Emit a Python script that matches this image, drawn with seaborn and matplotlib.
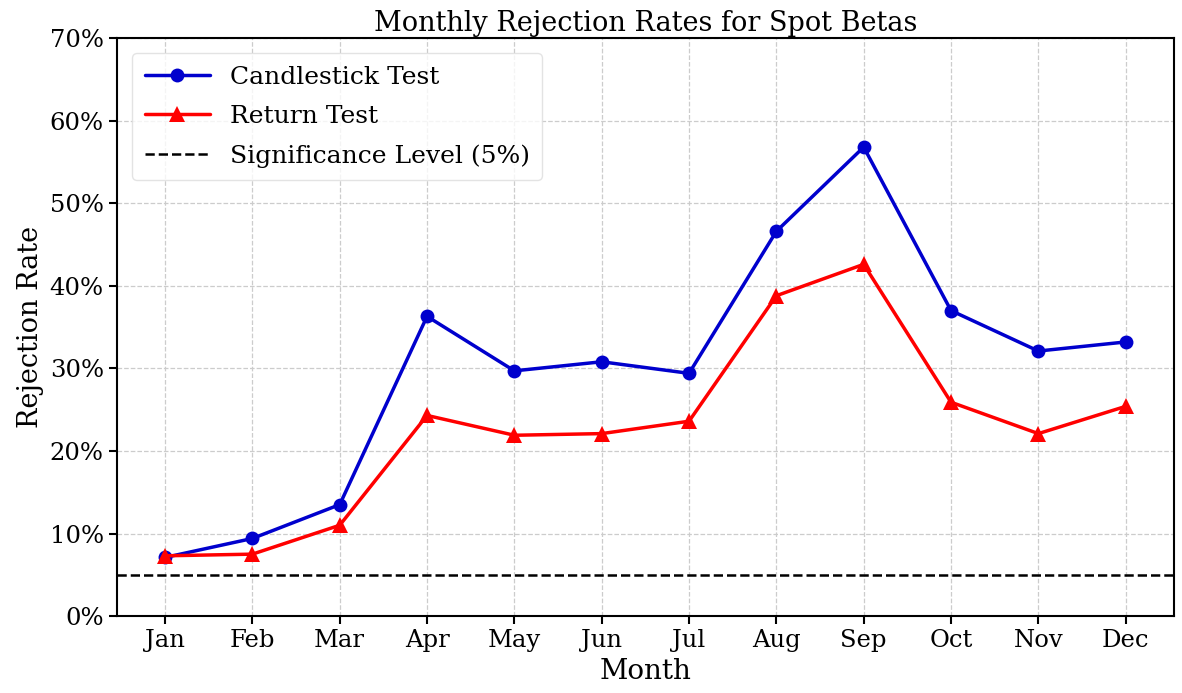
import matplotlib
matplotlib.use("Agg")
import matplotlib.pyplot as plt
import seaborn as sns
import pandas as pd
from matplotlib.ticker import PercentFormatter

months = ["Jan", "Feb", "Mar", "Apr", "May", "Jun", "Jul", "Aug", "Sep", "Oct", "Nov", "Dec"]
candlestick = [7.1, 9.4, 13.5, 36.3, 29.7, 30.8, 29.4, 46.6, 56.8, 37.0, 32.1, 33.2]
return_test = [7.3, 7.5, 11.0, 24.3, 21.9, 22.1, 23.6, 38.8, 42.6, 25.9, 22.1, 25.4]
significance = 5.0

sns.set_style("ticks")
plt.rcParams['font.family'] = ['DejaVu Serif']
plt.rcParams['text.color'] = 'black'
plt.rcParams['axes.labelcolor'] = 'black'

df = pd.DataFrame({"Month": months, "Candlestick": candlestick, "Return": return_test})
df["x"] = range(len(months))

fig, ax = plt.subplots(figsize=(11.82, 6.93), dpi=100)
sns.lineplot(data=df, x="x", y="Candlestick", ax=ax, color="#0000CD", marker="o",
             markersize=10, linewidth=2.5, markeredgewidth=0, label="Candlestick Test")
sns.lineplot(data=df, x="x", y="Return", ax=ax, color="#FF0000", marker="^",
             markersize=11, linewidth=2.5, markeredgewidth=0, label="Return Test")
ax.axhline(significance, color="black", linestyle="--", linewidth=1.8, label="Significance Level (5%)")

ax.set_xticks(df["x"])
ax.set_xticklabels(months)
ax.set_ylim(0, 70)
ax.set_yticks(range(0, 71, 10))
ax.yaxis.set_major_formatter(PercentFormatter(decimals=0))
ax.grid(True, linestyle="--", color="#cccccc", linewidth=0.9)
for s in ax.spines.values():
    s.set_visible(True)
    s.set_color("black")
    s.set_linewidth(1.5)
ax.tick_params(axis="both", labelsize=17.5, length=6, width=1.5, colors="black")
ax.set_xlabel("Month", fontsize=20, color="black")
ax.set_ylabel("Rejection Rate", fontsize=19.5, color="black")
ax.set_title("Monthly Rejection Rates for Spot Betas", fontsize=19.5, pad=5, color="black")
leg = ax.legend(loc="upper left", fontsize=18, frameon=True, handlelength=2.6,
                labelspacing=0.65, borderaxespad=0.6, borderpad=0.5, handletextpad=0.8)
leg.get_frame().set_edgecolor("#dddddd")
for t in leg.get_texts():
    t.set_color("black")

fig.subplots_adjust(left=0.099, right=0.993, top=0.945, bottom=0.111)
fig.savefig("out.png", dpi=100)
